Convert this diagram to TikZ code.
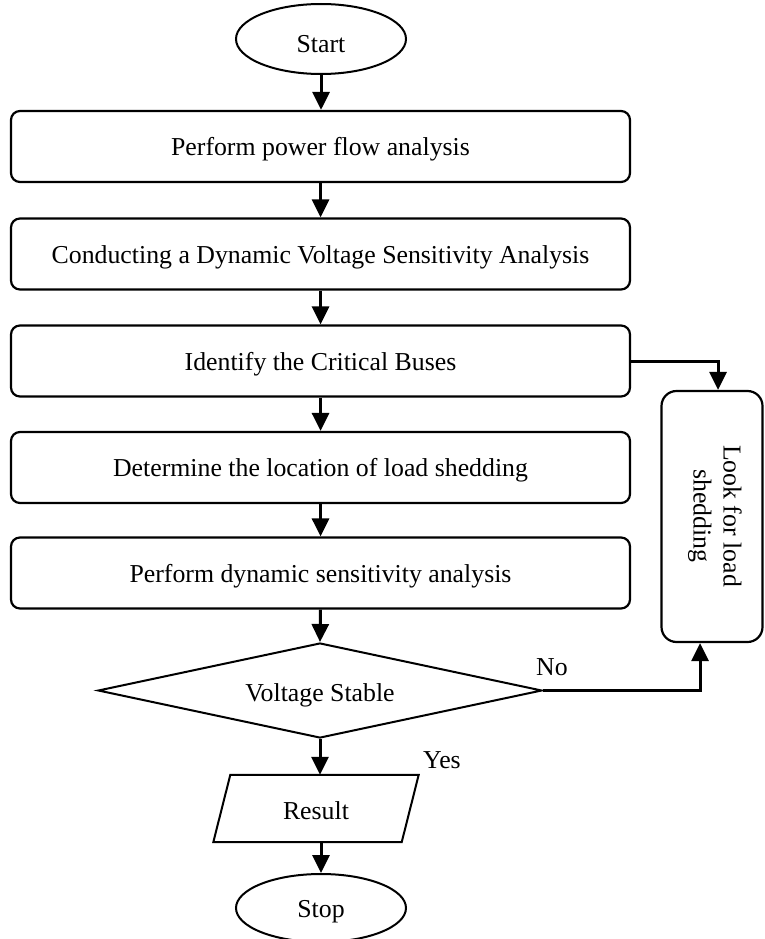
\documentclass[tikz,border=0pt]{standalone}
\usepackage{fontspec}
\setmainfont{Liberation Serif}
\usetikzlibrary{arrows.meta,shapes.geometric,calc}
\newcommand{\lowr}[2]{\raisebox{-#1}[\height][\depth]{#2}}
\begin{document}
\begin{tikzpicture}[x=1pt,y=-1pt,
  txt/.style={font=\fontsize{25.8}{30}\selectfont},
  box/.style={txt, draw, line width=2.2pt, rounded corners=9pt, minimum width=619pt, minimum height=71pt, inner sep=0pt},
  term/.style={txt, draw, ellipse, line width=2pt, minimum width=170pt, minimum height=70pt, inner sep=0pt},
  arr/.style={line width=3pt, -{Triangle[length=18pt,width=17pt]}},
  thin/.style={line width=2pt}
]
\useasboundingbox (0,0) rectangle (764,939);

\node[term] (start) at (321,39) {\lowr{5pt}{Start}};
\node[box] (b1) at (320.5,146.5) {\lowr{3pt}{Perform power flow analysis}};
\node[box] (b2) at (320.5,254) {\lowr{3pt}{Conducting a Dynamic Voltage Sensitivity Analysis}};
\node[box] (b3) at (320.5,361) {\lowr{3pt}{Identify the Critical Buses}};
\node[box] (b4) at (320.5,467.5) {\lowr{3pt}{Determine the location of load shedding}};
\node[box] (b5) at (320.5,573) {\lowr{3pt}{Perform dynamic sensitivity analysis}};

\node[txt, draw, line width=2.2pt, rounded corners=15pt, minimum width=101pt, minimum height=251pt, inner sep=0pt] (look) at (712,516.5) {};
\node[txt, rotate=-90, align=center] (looktxt) at (715,516) {Look for load\\shedding};

\node[thin, draw, diamond, minimum width=444pt, minimum height=95pt, inner sep=0pt] (dia) at (320,690.5) {};
\node[txt] (diatxt) at (320,695) {Voltage Stable};

\node[txt, minimum width=188pt, minimum height=67pt, inner sep=0pt] (res) at (316,808.5) {\lowr{2pt}{Result}};
\draw[thin] ($(res.south west)+(-8.5,0)$) -- ($(res.north west)+(8.5,0)$) -- ($(res.north east)+(8.5,0)$) -- ($(res.south east)+(-8.5,0)$) -- cycle;

\node[term, minimum height=68pt] (stop) at (321,908) {\lowr{4pt}{Stop}};

\node[txt] (no) at (552,667) {No};
\node[txt] (yes) at (442,760) {Yes};

\draw[arr] (start.south) -- (start.south |- b1.north);
\draw[arr] (b1) -- (b2);
\draw[arr] (b2) -- (b3);
\draw[arr] (b3) -- (b4);
\draw[arr] (b4) -- (b5);
\draw[arr] (b5.south) -- (dia.north);
\draw[arr] (dia.south) -- (dia.south |- res.north);
\draw[arr] (stop.north |- res.south) -- (stop.north);
\coordinate (lookin) at ($(look.north)+(6,0)$);
\coordinate (lookout) at ($(look.south)+(-12,0)$);
\draw[arr] (b3.east) -| (lookin);
\draw[arr] (dia.east) -| (lookout);
\end{tikzpicture}
\end{document}
